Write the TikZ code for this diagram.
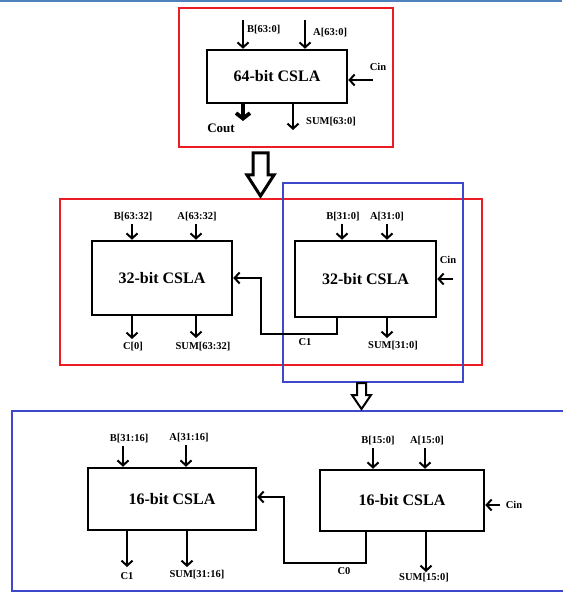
\documentclass[tikz,border=0pt]{standalone}
\usepackage{fontspec}
\setmainfont{Liberation Serif}
\usetikzlibrary{arrows.meta}
\definecolor{frmred}{RGB}{237,28,36}
\definecolor{frmblue}{RGB}{63,72,204}
\definecolor{barblue}{RGB}{79,129,189}

\begin{document}
\begin{tikzpicture}[x=1pt,y=-1pt,
  every node/.style={font=\bfseries\fontsize{10.5}{12}\selectfont,inner sep=0pt},
  blk/.style 2 args={draw=black,line width=2.5pt,minimum width=#1,minimum height=#2,font=\bfseries\fontsize{16}{18}\selectfont},
  frm/.style={draw=#1,line width=2pt},
  ar/.style={line width=2pt,line join=miter,-{Straight Barb[length=5pt,width=11pt]}},
  arthick/.style={line width=3.8pt,-{Straight Barb[length=5.5pt,width=14pt]}},
  hollow/.style={draw=black,line join=miter,fill=white}]
\useasboundingbox (0,0) rectangle (562,593);
% frames
\fill[barblue] (0,0) rectangle (562,2.5);
\draw[frm=frmred] (179,8) rectangle (393,147);
\draw[frm=frmred] (60,199) rectangle (482,365);
\draw[frm=frmblue] (283,183) rectangle (463,382);
\draw[frm=frmblue] (12,411) rectangle (580,591);
% blocks
\node[blk={140pt}{53pt}] (c64) at (277,76.5) {64-bit CSLA};
\node[blk={140pt}{74pt}] (c32l) at (162,278) {32-bit CSLA};
\node[blk={141pt}{76pt}] (c32r) at (365.5,279) {32-bit CSLA};
\node[blk={168pt}{62pt}] (c16l) at (172,499) {16-bit CSLA};
\node[blk={164pt}{61pt}] (c16r) at (402,500.5) {16-bit CSLA};
% input ends
\coordinate (b64) at (243,20);
\coordinate (a64) at (305,20);
\coordinate (b32l) at (132,224);
\coordinate (a32l) at (196,224);
\coordinate (b32r) at (342,224);
\coordinate (a32r) at (387,224);
\coordinate (b16l) at (123,446);
\coordinate (a16l) at (186,445);
\coordinate (b16r) at (373,448);
\coordinate (a16r) at (425,448);
\foreach \p/\q in {b64/c64,a64/c64,b32l/c32l,a32l/c32l,b32r/c32r,a32r/c32r,b16l/c16l,a16l/c16l,b16r/c16r,a16r/c16r}
  \draw[ar] (\p) -- (\p |- \q.north);
% carry in
\coordinate (cin64) at (373,80);
\coordinate (cin32) at (453,279);
\coordinate (cin16) at (500,505);
\draw[ar] (cin64) -- (cin64 -| c64.east);
\draw[ar] (cin32) -- (cin32 -| c32r.east);
\draw[ar] (cin16) -- (cin16 -| c16r.east);
% outputs
\coordinate (co64) at (243,121);
\coordinate (s64) at (293,130);
\coordinate (c0l) at (132,339);
\coordinate (s32l) at (196,338);
\coordinate (s32r) at (387,338);
\coordinate (c1l) at (127,567);
\coordinate (s16l) at (187,567);
\coordinate (s16r) at (426,572);
\draw[arthick] (co64 |- c64.south) -- (co64);
\foreach \p/\q in {s64/c64,c0l/c32l,s32l/c32l,s32r/c32r,c1l/c16l,s16l/c16l,s16r/c16r}
  \draw[ar] (\p |- \q.south) -- (\p);
% carries between blocks
\coordinate (k1) at (337,334);
\coordinate (kb) at (261,278);
\draw[ar] (k1 |- c32r.south) -- (k1) -| (kb) -- (kb -| c32l.east);
\coordinate (k0) at (366,563);
\coordinate (kc) at (284,497);
\draw[ar] (k0 |- c16r.south) -- (k0) -| (kc) -- (kc -| c16l.east);
% labels
\node[anchor=west] (lb64) at (247,30) {B[63:0]};
\node[anchor=west] (la64) at (313,33) {A[63:0]};
\node (lcin64) at (378,67) {Cin};
\node[font=\bfseries\fontsize{13}{14}\selectfont] (lco64) at (221,128) {Cout};
\node[anchor=west] (ls64) at (306,122) {SUM[63:0]};
\node (lb32l) at (133,217) {B[63:32]};
\node (la32l) at (197,217) {A[63:32]};
\node (lc0l) at (133,347) {C[0]};
\node (ls32l) at (203,347) {SUM[63:32]};
\node (lb32r) at (343,217) {B[31:0]};
\node (la32r) at (387,217) {A[31:0]};
\node (lcin32) at (448,260) {Cin};
\node (lc1) at (305,342) {C1};
\node (ls32r) at (393,346) {SUM[31:0]};
\node (lb16l) at (129,439) {B[31:16]};
\node (la16l) at (189,438) {A[31:16]};
\node (lc1l) at (127,576) {C1};
\node (ls16l) at (197,575) {SUM[31:16]};
\node (lb16r) at (378,441) {B[15:0]};
\node (la16r) at (427,441) {A[15:0]};
\node (lcin16) at (514,505) {Cin};
\node (lc0) at (344,571) {C0};
\node (ls16r) at (424,578) {SUM[15:0]};
% hollow stage arrows
\draw[hollow,line width=3pt] (253,153) -- (268,153) -- (268,175) -- (274,175) -- (260.5,196) -- (247,175) -- (253,175) -- cycle;
\draw[hollow,line width=2pt] (357,383) -- (366,383) -- (366,395) -- (371,395) -- (361.5,409) -- (352,395) -- (357,395) -- cycle;
\end{tikzpicture}
\end{document}
